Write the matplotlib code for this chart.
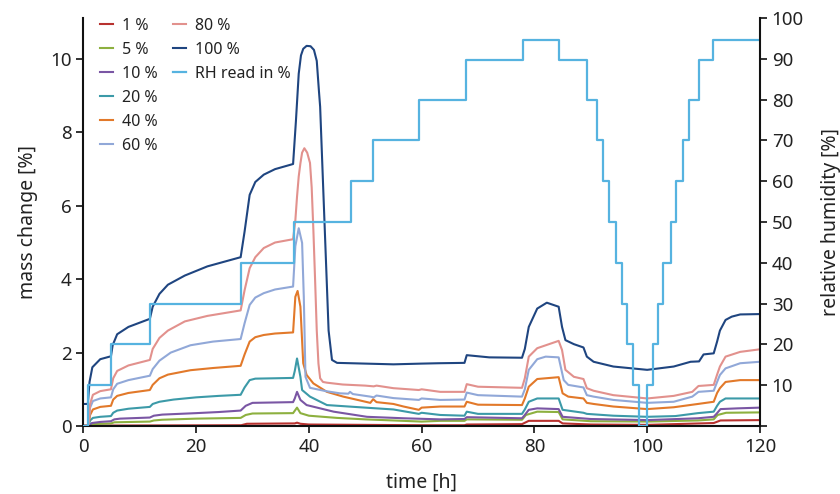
import matplotlib
matplotlib.use("Agg")
import matplotlib.pyplot as plt
from matplotlib.lines import Line2D

plt.rcParams['font.family'] = ['Noto Sans', 'DejaVu Sans']

# mass change [%] curves, one per sample humidity
t_1 = [0, 28, 29, 37.5, 37.9, 38.5, 40, 60, 67.6, 68, 77.8, 79, 84.3, 85, 90, 100, 111.8, 113, 120]
m_1 = [0.01, 0.02, 0.06, 0.07, 0.09, 0.06, 0.04, 0.02, 0.02, 0.04, 0.05, 0.14, 0.14, 0.07, 0.04, 0.03, 0.08, 0.15, 0.16]

t_5 = [0, 0.9, 1.5, 4.9, 5.5, 11.8, 12.5, 14, 20, 27.9, 28.8, 30, 37.2, 37.9, 38.5, 40, 45, 50, 60, 63.3,
       67.6, 68.0, 77.8, 78.5, 80.5, 84.3, 85.0, 90, 100, 109, 111.8, 112.5, 114, 120]
m_5 = [0, 0, 0.05, 0.07, 0.1, 0.12, 0.15, 0.17, 0.2, 0.22, 0.3, 0.34, 0.35, 0.5, 0.35, 0.28, 0.22, 0.18, 0.12, 0.14,
       0.14, 0.18, 0.17, 0.3, 0.39, 0.38, 0.18, 0.13, 0.12, 0.15, 0.18, 0.3, 0.36, 0.37]

t_10 = [0, 0.9, 1.5, 3, 4.9, 5.5, 6.5, 11.8, 12.5, 14, 20, 24, 27.9, 28.8, 30, 37.2, 37.5, 37.9, 38.5, 39.6,
        44.4, 50.3, 56.8, 63.3, 67.6, 68.0, 77.8, 78.3, 79, 80.5, 84.3, 85.0, 90, 100, 109, 111.8, 112.4, 113, 116, 120]
m_10 = [0, 0, 0.08, 0.11, 0.13, 0.18, 0.2, 0.23, 0.28, 0.31, 0.35, 0.38, 0.42, 0.55, 0.63, 0.65, 0.75, 0.93, 0.71, 0.57,
        0.39, 0.25, 0.21, 0.18, 0.19, 0.24, 0.21, 0.3, 0.44, 0.48, 0.46, 0.25, 0.19, 0.16, 0.21, 0.25, 0.35, 0.46, 0.48, 0.5]

t_20 = [0, 0.9, 1.2, 1.7, 3, 4.9, 5.3, 6, 8, 11.8, 12.3, 13.5, 16, 20, 24, 27.9, 28.6, 29.5, 30.5, 34, 37.2,
        37.5, 37.9, 38.5, 38.8, 40.2, 43.2, 50, 55, 59.5, 60, 63.3, 67.6, 68.0, 70, 77.8, 78.3, 79, 80.5, 84.3,
        85.0, 88.7, 89.3, 94, 100, 105, 109, 111.8, 112.4, 112.9, 113.9, 120]
m_20 = [0, 0, 0.15, 0.22, 0.25, 0.27, 0.36, 0.42, 0.47, 0.52, 0.6, 0.66, 0.72, 0.78, 0.82, 0.85, 1.05, 1.25, 1.29, 1.3, 1.31,
        1.5, 1.84, 1.34, 0.98, 0.8, 0.57, 0.5, 0.45, 0.33, 0.36, 0.3, 0.28, 0.39, 0.33, 0.33, 0.45, 0.66, 0.75, 0.75,
        0.44, 0.36, 0.33, 0.28, 0.25, 0.27, 0.35, 0.39, 0.55, 0.66, 0.75, 0.75]

t_40 = [0, 0.9, 1.2, 1.7, 3, 4.9, 5.3, 6, 8, 11.8, 12.3, 13.5, 15, 19, 23, 27.9, 28.6, 29.5, 30.5, 32, 34, 37.2,
        37.6, 38.0, 38.5, 39.0, 39.6, 40.8, 43.2, 46.1, 50.9, 51.4, 52, 55, 56.8, 59.5, 60, 63.3, 67.6, 68.0, 70,
        77.8, 78.3, 79, 80.5, 84.3, 85.0, 86, 88.7, 89.3, 90.5, 94, 100, 104.7, 109, 111.8, 112.4, 112.9, 113.9,
        116.5, 120]
m_40 = [0, 0, 0.3, 0.45, 0.52, 0.55, 0.72, 0.82, 0.9, 0.98, 1.12, 1.3, 1.4, 1.52, 1.58, 1.64, 1.95, 2.3, 2.42, 2.48, 2.52, 2.55,
        3.52, 3.68, 3.25, 1.71, 1.39, 1.16, 0.93, 0.8, 0.63, 0.73, 0.65, 0.6, 0.53, 0.44, 0.5, 0.53, 0.53, 0.66, 0.58,
        0.57, 0.75, 1.07, 1.28, 1.33, 0.89, 0.8, 0.75, 0.63, 0.6, 0.53, 0.46, 0.51, 0.6, 0.66, 0.9, 1.03, 1.2,
        1.25, 1.25]

t_60 = [0, 0.9, 1.2, 1.7, 3, 4.9, 5.3, 6, 8, 11.8, 12.3, 13.5, 15.5, 19, 23, 27.9, 28.6, 29.5, 30.5, 32, 34, 37.2,
        37.6, 38.2, 38.8, 39.1, 39.4, 40.2, 43, 45.5, 47, 47.3, 47.8, 50.9, 51.5, 52, 55, 59.5, 60, 63.3, 67.6, 68.0,
        70, 77.8, 78.3, 79, 80.5, 82, 84.3, 85.2, 86, 88.7, 89.3, 90.5, 94, 100, 104.7, 108, 109.1, 111.8, 112.4,
        112.9, 113.9, 116.5, 120]
m_60 = [0, 0, 0.5, 0.68, 0.75, 0.78, 1.0, 1.15, 1.25, 1.37, 1.55, 1.78, 2.0, 2.2, 2.3, 2.37, 2.8, 3.3, 3.5, 3.62, 3.72, 3.8,
        4.9, 5.39, 4.99, 3.52, 1.34, 1.04, 0.95, 0.89, 0.88, 0.93, 0.87, 0.8, 0.78, 0.83, 0.76, 0.71, 0.75, 0.71, 0.72, 0.91,
        0.84, 0.8, 1.0, 1.53, 1.82, 1.89, 1.87, 1.25, 1.12, 1.05, 0.84, 0.8, 0.71, 0.63, 0.66, 0.8, 0.93, 0.96, 1.2,
        1.39, 1.57, 1.71, 1.75]

t_80 = [0, 0.9, 1.2, 1.7, 3, 4.9, 5.3, 6, 8, 11.8, 12.3, 13.5, 15, 18, 22, 27.9, 28.6, 29.5, 30.5, 32, 34, 37.2,
        37.6, 37.9, 38.2, 38.5, 38.8, 39.2, 39.7, 40.2, 40.5, 40.8, 41.1, 41.4, 41.7, 42, 42.5, 43.2, 46, 50, 51.5,
        52, 55, 59.5, 60, 63.3, 67.6, 68.0, 70, 77.8, 78.3, 79, 80.5, 84.3, 84.9, 85.5, 87, 88.7, 89.3, 90.5, 94,
        100, 104.7, 108, 109.1, 111.8, 112.4, 112.9, 113.9, 116.5, 120]
m_80 = [0, 0, 0.6, 0.85, 0.95, 1.0, 1.3, 1.5, 1.65, 1.8, 2.1, 2.4, 2.6, 2.85, 3.0, 3.15, 3.7, 4.3, 4.6, 4.85, 5.0, 5.09,
        5.6, 6.25, 6.8, 7.16, 7.45, 7.57, 7.45, 7.17, 6.5, 5.34, 4.0, 2.6, 1.7, 1.3, 1.2, 1.18, 1.13, 1.1, 1.08,
        1.1, 1.03, 0.98, 1.0, 0.93, 0.93, 1.14, 1.07, 1.04, 1.3, 1.89, 2.12, 2.32, 2.07, 1.53, 1.34, 1.28, 1.03, 0.96, 0.84,
        0.75, 0.82, 0.93, 1.09, 1.12, 1.4, 1.62, 1.89, 2.02, 2.09]

t_100 = [0, 0.8, 1.1, 1.6, 3, 4.9, 5.2, 6, 8, 11.8, 12.3, 13.5, 15, 18, 22, 27.9, 28.6, 29.5, 30.5, 32, 34, 37.2,
         37.7, 38.2, 38.6, 39.0, 39.6, 40.3, 40.9, 41.4, 41.8, 42.0, 42.6, 43.5, 44.1, 45, 50, 55, 60, 63, 67.6, 68.0,
         72, 77.8, 78.3, 79, 80.5, 82.2, 84.3, 84.9, 85.5, 87, 88.7, 89.3, 90.5, 94, 100, 104.7, 107.7, 109.2, 110,
         111.8, 112.4, 112.9, 113.9, 115, 116.5, 120]
m_100 = [0.6, 0.6, 1.2, 1.6, 1.82, 1.9, 2.2, 2.5, 2.7, 2.92, 3.25, 3.6, 3.85, 4.1, 4.35, 4.6, 5.3, 6.3, 6.65, 6.85, 7.0, 7.14,
         8.3, 9.6, 10.1, 10.28, 10.36, 10.35, 10.25, 9.95, 9.1, 8.7, 6.25, 2.6, 1.8, 1.72, 1.7, 1.68, 1.7, 1.71, 1.72, 1.93,
         1.87, 1.86, 2.1, 2.7, 3.2, 3.36, 3.25, 2.7, 2.34, 2.23, 2.14, 1.89, 1.75, 1.62, 1.53, 1.62, 1.75, 1.76, 1.95,
         1.98, 2.3, 2.6, 2.89, 2.98, 3.04, 3.05]

# relative humidity set points (step changes)
t_rh = [0, 0.9, 4.9, 11.8, 28.0, 37.3, 47.5, 51.3, 59.5, 67.9, 77.9, 84.4, 89.3, 91.1, 92.2, 93.2,
        94.4, 95.5, 96.5, 97.4, 98.6, 99.9, 101.0, 102.0, 102.8, 104.2, 105.1, 106.3, 107.5, 109.2, 111.7, 120]
rh = [0, 10, 20, 30, 40, 50, 60, 70, 80, 89.6, 94.5, 89.6, 80, 70, 60, 50,
      40, 30, 20, 10, 0, 10, 20, 30, 40, 50, 60, 70, 80, 89.6, 94.5, 94.5]

series = [
    ("1 %", t_1, m_1, "#b8322f"),
    ("5 %", t_5, m_5, "#8db03f"),
    ("10 %", t_10, m_10, "#7a56a4"),
    ("20 %", t_20, m_20, "#3c9aa8"),
    ("40 %", t_40, m_40, "#e2792a"),
    ("60 %", t_60, m_60, "#91a8d8"),
    ("80 %", t_80, m_80, "#e2918d"),
    ("100 %", t_100, m_100, "#1f4580"),
]

text_col = "#222222"

fig = plt.figure(figsize=(8.4, 4.94), dpi=100)
ax = fig.add_axes([0.0992, 0.1377, 0.8055, 0.8259])
ax2 = ax.twinx()

handles = []
for label, t, m, col in series:
    h, = ax.plot(t, m, color=col, lw=1.5, label=label)
    handles.append(h)

h_rh, = ax2.plot(t_rh, rh, color="#56b3e0", lw=1.6, drawstyle="steps-post", label="RH read in %")
handles.append(h_rh)

ax.set_xlim(0, 120)
ax.set_ylim(0, 11.12)
ax2.set_ylim(0, 100)

ax.set_xticks(range(0, 121, 20))
ax.set_yticks(range(0, 11, 2))
ax2.set_yticks(range(0, 101, 10))
ax2.set_yticklabels([""] + [str(v) for v in range(10, 101, 10)])

for a in (ax, ax2):
    a.spines['top'].set_visible(False)
    for s in a.spines.values():
        s.set_linewidth(1.5)
        s.set_color("#111111")
    a.tick_params(direction='out', length=5, width=1.3, labelsize=13.5, colors=text_col)
ax2.spines['left'].set_visible(False)
ax2.spines['bottom'].set_visible(False)
ax.spines['right'].set_visible(False)

ax.set_xlabel("time [h]", fontsize=14, color=text_col, labelpad=12)
ax.set_ylabel("mass change [%]", fontsize=14, color=text_col, labelpad=9)
ax2.set_ylabel("relative humidity [%]", fontsize=14, color=text_col, labelpad=12)

# pad the legend so the first column holds six entries like the original
blank = [Line2D([], [], color='none') for _ in range(3)]
leg = ax2.legend(handles + blank, [h.get_label() for h in handles] + [""] * 3,
                 ncol=2, loc='upper left', bbox_to_anchor=(0.025, 1.0), frameon=False,
                 fontsize=11.5, handlelength=0.8, handletextpad=0.55, labelspacing=0.5,
                 columnspacing=1.0, borderpad=0, borderaxespad=0)
for txt in leg.get_texts():
    txt.set_color(text_col)

fig.savefig("out.png", dpi=100)
